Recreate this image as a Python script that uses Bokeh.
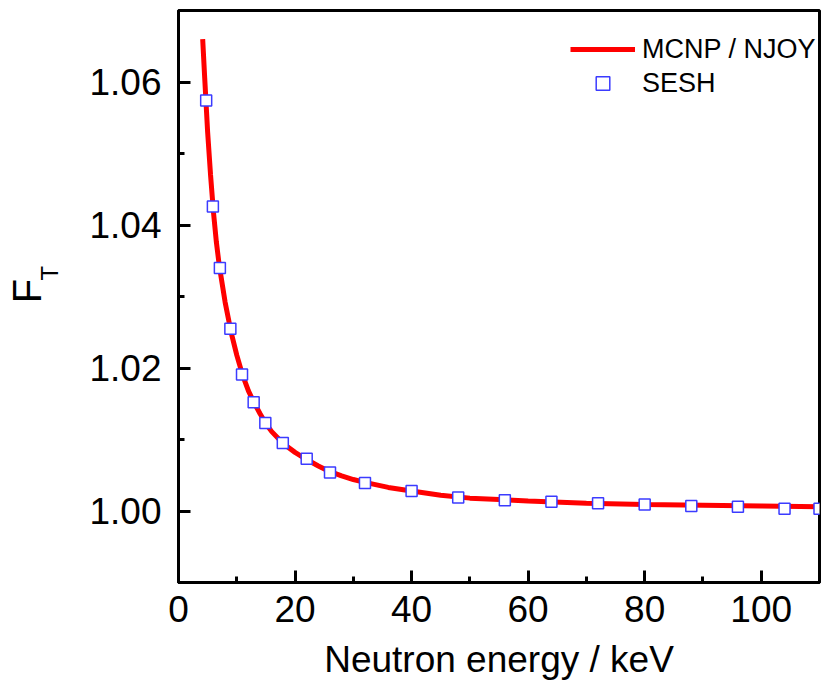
from bokeh.plotting import figure
from bokeh.models import (Range1d, FixedTicker, Legend, LegendItem, CustomJSTickFormatter,
                          LinearAxis)
from bokeh.embed import file_html
from bokeh.resources import INLINE

# MCNP / NJOY curve
curve_x = [4.15, 4.5, 5.0, 5.5, 6.0, 6.5, 7.0, 8.0, 9.0, 10.0, 11.0, 12.0, 13.0, 14.0,
           15.0, 16.0, 18.0, 20.0, 22.0, 24.0, 26.0, 28.0, 30.0, 32.0, 36.0, 40.0,
           45.0, 50.0, 55.0, 60.0, 70.0, 80.0, 90.0, 100.0, 110.0]
curve_y = [1.0660, 1.0605, 1.0530, 1.0470, 1.0418, 1.0376, 1.0343, 1.0292, 1.0251,
           1.0218, 1.0190, 1.0168, 1.0151, 1.0136, 1.0122, 1.0111, 1.0094, 1.0082,
           1.0072, 1.0063, 1.0055, 1.0049, 1.0044, 1.0040, 1.0033, 1.0028, 1.0022,
           1.0018, 1.0016, 1.0014, 1.0011, 1.0009, 1.0008, 1.0007, 1.0006]

# SESH points
sesh_x = [4.75, 5.9, 7.1, 8.9, 10.9, 12.9, 14.9, 17.9, 22, 26, 32, 40, 48, 56, 64,
          72, 80, 88, 96, 104, 110]
sesh_y = [1.0574, 1.0426, 1.0340, 1.0255, 1.0191, 1.0152, 1.0123, 1.0095, 1.0073,
          1.0054, 1.0039, 1.0028, 1.0019, 1.0015, 1.0013, 1.0011, 1.0009, 1.0007,
          1.0006, 1.0003, 1.0003]

x_ticks = [0, 20, 40, 60, 80, 100]
x_minor = [10, 30, 50, 70, 90, 110]
y_ticks = [1.00, 1.02, 1.04, 1.06]
y_minor = [0.99, 1.01, 1.03, 1.05, 1.07]

y_title_main = "F"
y_title_sub = "T"
x_title = "Neutron energy / keV"

FONT = "Liberation Sans"
W, H = 821, 682
NBSP = "\u00a0"

p = figure(width=W, height=H, output_backend="svg", toolbar_location=None,
           x_range=Range1d(0, 110), y_range=Range1d(0.99, 1.07),
           min_border_left=178, min_border_right=2, min_border_top=10,
           min_border_bottom=100)

p.grid.visible = False
p.background_fill_color = "white"
p.border_fill_color = "white"
p.outline_line_color = "black"
p.outline_line_width = 3

for ax in (p.xaxis[0], p.yaxis[0]):
    ax.axis_line_width = 3
    ax.axis_line_color = "black"
    ax.major_tick_in = 12
    ax.major_tick_out = 0
    ax.minor_tick_in = 6
    ax.minor_tick_out = 0
    ax.major_tick_line_width = 3
    ax.minor_tick_line_width = 3
    ax.major_tick_line_color = "black"
    ax.minor_tick_line_color = "black"
    ax.major_label_text_font = FONT
    ax.major_label_text_font_size = "37px"
    ax.major_label_text_color = "black"

p.xaxis.ticker = FixedTicker(ticks=x_ticks, minor_ticks=x_minor)
p.yaxis.ticker = FixedTicker(ticks=y_ticks, minor_ticks=y_minor)
p.yaxis.formatter = CustomJSTickFormatter(code="return tick.toFixed(2);")
p.xaxis.major_label_standoff = 13
p.yaxis.major_label_standoff = 17

p.xaxis.axis_label = x_title
p.xaxis.axis_label_text_font = FONT
p.xaxis.axis_label_text_font_size = "37px"
p.xaxis.axis_label_text_font_style = "normal"
p.xaxis.axis_label_text_color = "black"
p.xaxis.axis_label_standoff = 14


def label_axis(text, size, standoff):
    a = LinearAxis(axis_label=text, ticker=FixedTicker(ticks=[]),
                   axis_line_color=None, major_tick_line_color=None,
                   minor_tick_line_color=None, major_tick_in=0, major_tick_out=0,
                   minor_tick_in=0, minor_tick_out=0, major_label_standoff=0)
    a.axis_label_text_font = FONT
    a.axis_label_text_font_size = size
    a.axis_label_text_font_style = "normal"
    a.axis_label_text_color = "black"
    a.axis_label_standoff = standoff
    return a


# subscript "T" (closer to the frame), then "F"; leading no-break spaces lift them
p.add_layout(label_axis(NBSP * 7 + y_title_sub, "24px", 24), "left")
p.add_layout(label_axis(NBSP + y_title_main, "40px", -16), "left")

line_r = p.line(curve_x, curve_y, line_color="#ff0000", line_width=5)
sq_r = p.scatter(sesh_x, sesh_y, marker="square", size=11, fill_color="white",
                 line_color="#3b3bff", line_width=1.5)

legend = Legend(items=[LegendItem(label="MCNP / NJOY", renderers=[line_r]),
                       LegendItem(label="SESH", renderers=[sq_r])],
                location=(392, 482))
legend.border_line_color = None
legend.background_fill_alpha = 0
legend.padding = 0
legend.margin = 0
legend.spacing = 0
legend.glyph_width = 65
legend.glyph_height = 34
legend.label_height = 34
legend.label_standoff = 7
legend.label_text_font = FONT
legend.label_text_font_size = "27px"
legend.label_text_color = "black"
p.add_layout(legend)

open("out.html", "w").write(file_html(p, INLINE))
